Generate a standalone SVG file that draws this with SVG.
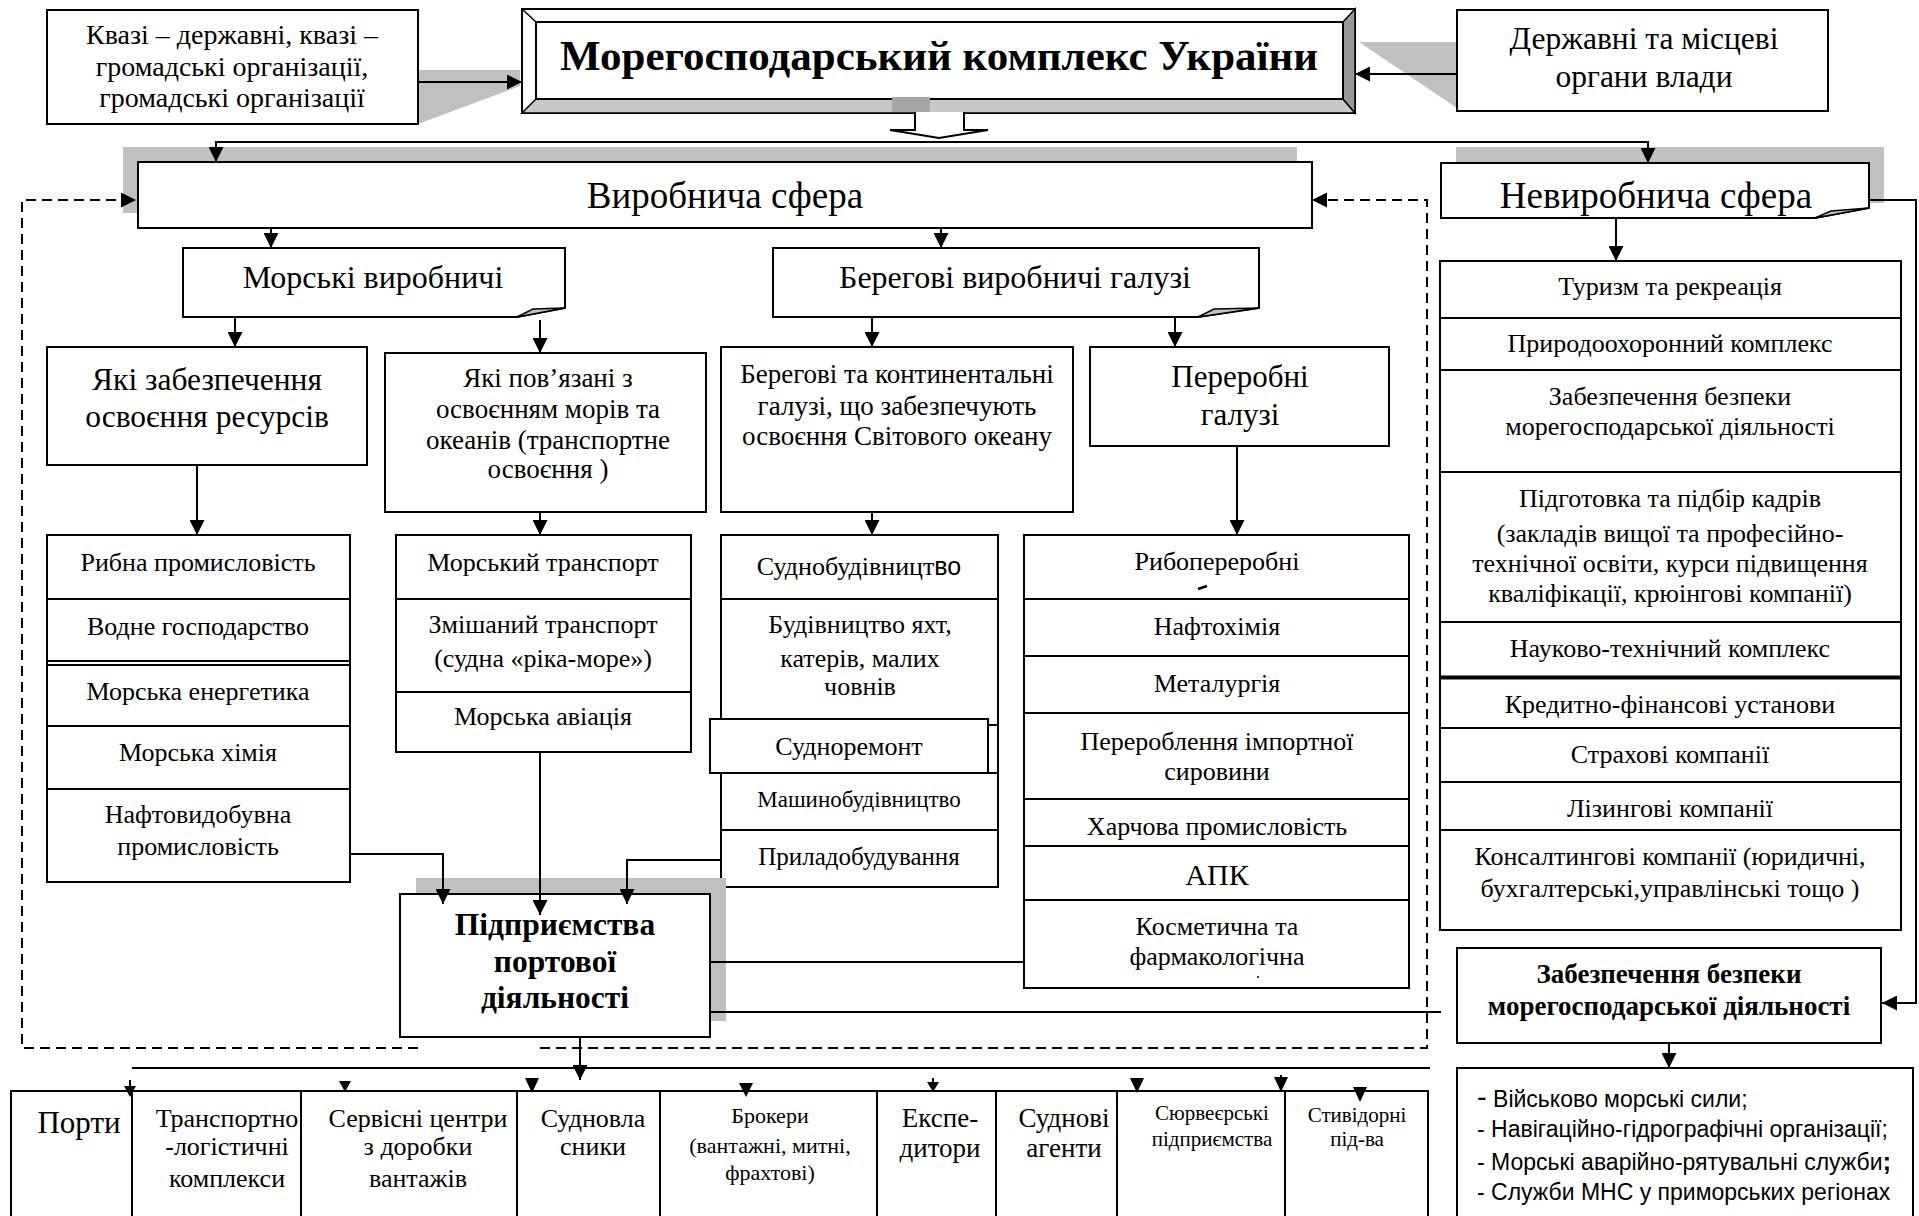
<svg xmlns="http://www.w3.org/2000/svg" width="1919" height="1216" viewBox="0 0 1919 1216">
<defs>
  <marker id="ah" viewBox="0 0 10 10" refX="10" refY="5" markerWidth="15" markerHeight="15" markerUnits="userSpaceOnUse" orient="auto">
    <path d="M0,0 L10,5 L0,10 z" fill="#000"/>
  </marker>
</defs>
<style>
  .box{fill:#fff;stroke:#000;stroke-width:2}
  .sh{fill:#c0c0c0;stroke:none}
  .ln{fill:none;stroke:#000;stroke-width:2}
  .dash{fill:none;stroke:#000;stroke-width:2;stroke-dasharray:10 6}
  .arr{marker-end:url(#ah)}
  .t{font-family:"Liberation Serif","Times New Roman",serif;fill:#000;text-anchor:middle}
  .b{font-weight:bold}
  .s{font-family:"Liberation Sans",Arial,sans-serif;fill:#000}
  .f21{font-size:21px}.f22{font-size:22px}.f23{font-size:23px}.f25{font-size:25px}
  .f26{font-size:26px}.f27{font-size:27px}.f28{font-size:28px}.f30{font-size:30px}.f31{font-size:31px}.f32{font-size:32px}.f37{font-size:37px}
</style>

<!-- shadows behind boxes -->
<g id="shadows">
  <polygon class="sh" points="418,70 520,70 520,86 418,124"/>
  <polygon class="sh" points="1359,42 1457,42 1457,108"/>
  <rect class="sh" x="123" y="147" width="1174" height="66"/>
  <rect class="sh" x="1456" y="147" width="428" height="56"/>
</g>

<!-- top: main complex with bevel frame -->
<g id="main">
  <rect x="522" y="9" width="833" height="104" fill="#fff" stroke="#000" stroke-width="2"/>
  <polygon points="522,113 536,99 1343,99 1355,113" fill="#c8c8c8" stroke="#000" stroke-width="1.5"/>
  <polygon points="1355,9 1343,22 1343,99 1355,113" fill="#999" stroke="#000" stroke-width="1.5"/>
  <line x1="522" y1="9" x2="536" y2="22" stroke="#000" stroke-width="1.5"/>
  <rect x="536" y="22" width="807" height="77" fill="#fff" stroke="#000" stroke-width="2"/>
  <rect x="892" y="97" width="38" height="15" fill="#a6a6a6"/>
  <path d="M915,112 V130 H890 L939,138 L988,130 H964 V112" fill="#fff" stroke="#000" stroke-width="2"/>
  <text class="t b" x="939" y="70" font-size="43">Морегосподарський комплекс України</text>
</g>

<g id="quasi">
  <rect class="box" x="47" y="10" width="371" height="114"/>
  <text class="t f28" x="232" y="44">Квазі – державні, квазі –</text>
  <text class="t f28" x="232" y="76">громадські організації,</text>
  <text class="t f28" x="232" y="107">громадські організації</text>
</g>

<g id="authorities">
  <rect class="box" x="1457" y="10" width="371" height="101"/>
  <text class="t" font-size="31.5" x="1644" y="49">Державні та місцеві</text>
  <text class="t" font-size="31.5" x="1644" y="87">органи влади</text>
</g>

<g id="production">
  <rect class="box" x="138" y="162" width="1174" height="66"/>
  <text class="t f37" x="725" y="208">Виробнича сфера</text>
</g>

<g id="nonproduction">
  <polygon class="box" points="1441,163 1869,163 1869,208 1815,218 1441,218"/>
  <polygon points="1815,218 1831,211 1869,208" fill="#c0c0c0" stroke="#000" stroke-width="1.5"/>
  <text class="t f37" x="1656" y="208">Невиробнича сфера</text>
</g>

<g id="marine">
  <polygon class="box" points="183,248 565,248 565,308 517,317 183,317"/>
  <polygon points="517,317 533,309 565,308" fill="#c0c0c0" stroke="#000" stroke-width="1.5"/>
  <text class="t f32" x="373" y="288">Морські виробничі</text>
</g>

<g id="coastal">
  <polygon class="box" points="773,248 1259,248 1259,308 1198,317 773,317"/>
  <polygon points="1198,317 1214,309 1259,308" fill="#c0c0c0" stroke="#000" stroke-width="1.5"/>
  <text class="t f32" x="1015" y="288">Берегові виробничі галузі</text>
</g>

<g id="resources">
  <rect class="box" x="47" y="347" width="320" height="118"/>
  <text class="t" font-size="31.5" x="207" y="390">Які забезпечення</text>
  <text class="t" font-size="31.5" x="207" y="427">освоєння ресурсів</text>
</g>

<g id="transport-dev">
  <rect class="box" x="385" y="353" width="321" height="159"/>
  <text class="t f27" x="548" y="387">Які пов’язані з</text>
  <text class="t f27" x="548" y="418">освоєнням морів та</text>
  <text class="t f27" x="548" y="449">океанів (транспортне</text>
  <text class="t f27" x="548" y="478">освоєння )</text>
</g>

<g id="continental">
  <rect class="box" x="721" y="347" width="352" height="165"/>
  <text class="t f27" x="897" y="383">Берегові та континентальні</text>
  <text class="t f27" x="897" y="415">галузі, що забезпечують</text>
  <text class="t f27" x="897" y="445">освоєння Світового океану</text>
</g>

<g id="processing">
  <rect class="box" x="1090" y="347" width="299" height="99"/>
  <text class="t f31" x="1240" y="387">Переробні</text>
  <text class="t f31" x="1240" y="425">галузі</text>
</g>

<g id="list-resources">
  <rect class="box" x="47" y="535" width="303" height="347"/>
  <path class="ln" d="M47,599 H350 M47,661 H350 M47,665 H350 M47,726 H350 M47,789 H350"/>
  <text class="t f26" x="198" y="571">Рибна промисловість</text>
  <text class="t f26" x="198" y="635">Водне господарство</text>
  <text class="t f26" x="198" y="700">Морська енергетика</text>
  <text class="t f26" x="198" y="761">Морська хімія</text>
  <text class="t f26" x="198" y="823">Нафтовидобувна</text>
  <text class="t f26" x="198" y="855">промисловість</text>
</g>

<g id="list-transport">
  <rect class="box" x="396" y="535" width="295" height="217"/>
  <path class="ln" d="M396,599 H691 M396,692 H691"/>
  <text class="t f26" x="543" y="571">Морський транспорт</text>
  <text class="t f26" x="543" y="633">Змішаний транспорт</text>
  <text class="t f26" x="543" y="667">(судна «ріка-море»)</text>
  <text class="t f26" x="543" y="725">Морська авіація</text>
</g>

<g id="list-shipbuilding">
  <rect class="box" x="721" y="535" width="277" height="352"/>
  <path class="ln" d="M721,599 H998 M721,725 H998 M721,773 H998 M721,830 H998"/>
  <text class="t f26" x="859" y="575">Суднобудівницт<tspan font-family="Liberation Sans, Arial, sans-serif" font-size="25">во</tspan></text>
  <text class="t f26" x="860" y="633">Будівництво яхт,</text>
  <text class="t f26" x="860" y="667">катерів, малих</text>
  <text class="t f26" x="860" y="695">човнів</text>
  <text class="t f23" x="859" y="807">Машинобудівництво</text>
  <text class="t f25" x="859" y="865">Приладобудування</text>
</g>

<g id="ship-repair">
  <rect class="box" x="710" y="719" width="278" height="54"/>
  <text class="t f26" x="849" y="755">Судноремонт</text>
</g>

<g id="list-processing">
  <rect class="box" x="1024" y="535" width="385" height="453"/>
  <path class="ln" d="M1024,599 H1409 M1024,656 H1409 M1024,713 H1409 M1024,799 H1409 M1024,846 H1409 M1024,900 H1409"/>
  <text class="t f26" x="1217" y="570">Рибопереробні</text>
  <path d="M1198,589 L1207,586" stroke="#000" stroke-width="2.5"/>
  <text class="t f26" x="1217" y="635">Нафтохімія</text>
  <text class="t f26" x="1217" y="692">Металургія</text>
  <text class="t f26" x="1217" y="750">Перероблення імпортної</text>
  <text class="t f26" x="1217" y="780">сировини</text>
  <text class="t f26" x="1217" y="835">Харчова промисловість</text>
  <text class="t f30" x="1217" y="885">АПК</text>
  <text class="t f26" x="1217" y="935">Косметична та</text>
  <text class="t f26" x="1217" y="965">фармакологічна</text>
  <circle cx="1258" cy="977" r="1"/>
</g>

<g id="list-nonproduction">
  <rect class="box" x="1440" y="261" width="461" height="669"/>
  <path class="ln" d="M1440,318 H1901 M1440,370 H1901 M1440,472 H1901 M1440,622 H1901 M1440,728 H1901 M1440,782 H1901 M1440,830 H1901"/>
  <path d="M1440,677.5 H1901" stroke="#000" stroke-width="4"/>
  <text class="t f26" x="1670" y="295">Туризм та рекреація</text>
  <text class="t f26" x="1670" y="352">Природоохоронний комплекс</text>
  <text class="t f26" x="1670" y="405">Забезпечення безпеки</text>
  <text class="t f26" x="1670" y="435">морегосподарської діяльності</text>
  <text class="t f26" x="1670" y="507">Підготовка та підбір кадрів</text>
  <text class="t f26" x="1670" y="542">(закладів вищої та професійно-</text>
  <text class="t f26" x="1670" y="572">технічної освіти, курси підвищення</text>
  <text class="t f26" x="1670" y="602">кваліфікації, крюінгові компанії)</text>
  <text class="t f26" x="1670" y="657">Науково-технічний комплекс</text>
  <text class="t f26" x="1670" y="713">Кредитно-фінансові установи</text>
  <text class="t f26" x="1670" y="763">Страхові компанії</text>
  <text class="t f26" x="1670" y="817">Лізингові компанії</text>
  <text class="t f26" x="1670" y="865">Консалтингові компанії (юридичні,</text>
  <text class="t f26" x="1670" y="897">бухгалтерські,управлінські тощо )</text>
</g>

<g id="port">
  <rect class="sh" x="416" y="878" width="310" height="143"/>
  <rect class="box" x="400" y="894" width="310" height="143"/>
  <text class="t b" font-size="31.5" x="555" y="935">Підприємства</text>
  <text class="t b" font-size="31.5" x="555" y="972">портової</text>
  <text class="t b" font-size="31.5" x="555" y="1008">діяльності</text>
</g>

<g id="security">
  <rect class="box" x="1457" y="948" width="424" height="95"/>
  <text class="t b" font-size="27" x="1669" y="983">Забезпечення безпеки</text>
  <text class="t b" font-size="27" x="1669" y="1015">морегосподарської діяльності</text>
</g>

<g id="security-list">
  <rect class="box" x="1457" y="1068" width="456" height="170"/>
  <text class="s" font-size="23" x="1477" y="1107"><tspan font-size="29">-</tspan> Військово морські сили;</text>
  <text class="s" font-size="23" x="1477" y="1137">- Навігаційно-гідрографічні організації;</text>
  <text class="s" font-size="23" x="1477" y="1170">- Морські аварійно-рятувальні служби<tspan font-weight="bold" font-size="26">;</tspan></text>
  <text class="s" font-size="23" x="1477" y="1200">- Служби МНС у приморських регіонах</text>
</g>

<g id="port-table">
  <rect class="box" x="11" y="1091" width="1417" height="150"/>
  <path class="ln" d="M132,1091 V1241 M301,1091 V1241 M517,1091 V1241 M660,1091 V1241 M877,1091 V1241 M996,1091 V1241 M1117,1091 V1241 M1285,1091 V1241"/>
  <text class="t f31" x="79" y="1133">Порти</text>
  <text class="t f26" x="227" y="1127">Транспортно</text>
  <text class="t f26" x="227" y="1155">-логістичні</text>
  <text class="t f26" x="227" y="1187">комплекси</text>
  <text class="t f26" x="418" y="1127">Сервісні центри</text>
  <text class="t f26" x="418" y="1155">з доробки</text>
  <text class="t f26" x="418" y="1187">вантажів</text>
  <text class="t f26" x="593" y="1127">Судновла</text>
  <text class="t f26" x="593" y="1155">сники</text>
  <text class="t f22" x="770" y="1123">Брокери</text>
  <text class="t f22" x="770" y="1153">(вантажні, митні,</text>
  <text class="t f22" x="770" y="1180">фрахтові)</text>
  <text class="t f27" x="940" y="1127">Експе-</text>
  <text class="t f27" x="940" y="1157">дитори</text>
  <text class="t f27" x="1064" y="1127">Суднові</text>
  <text class="t f27" x="1064" y="1157">агенти</text>
  <text class="t f21" x="1212" y="1120">Сюрвеєрські</text>
  <text class="t f21" x="1212" y="1146">підприємства</text>
  <text class="t f21" x="1357" y="1122">Стивідорні</text>
  <text class="t f21" x="1357" y="1146">під-ва</text>
</g>

<g id="connectors">
  <path class="ln arr" d="M418,82 H522"/>
  <path class="ln arr" d="M1457,74 H1355"/>
  <path class="ln arr" d="M939,142 H216 V162"/>
  <path class="ln arr" d="M939,142 H1648 V163"/>
  <path class="ln arr" d="M271,228 V248"/>
  <path class="ln arr" d="M941,228 V248"/>
  <path class="ln arr" d="M235,317 V347"/>
  <path class="ln arr" d="M540,320 V353"/>
  <path class="ln arr" d="M872,318 V347"/>
  <path class="ln arr" d="M1175,317 V347"/>
  <path class="ln arr" d="M197,465 V535"/>
  <path class="ln arr" d="M540,512 V535"/>
  <path class="ln arr" d="M872,512 V535"/>
  <path class="ln arr" d="M1237,446 V535"/>
  <path class="ln arr" d="M1616,218 V261"/>
  <path class="ln arr" d="M1869,200 H1916 V1003 H1882"/>
  <path class="ln arr" d="M350,854 H443 V904"/>
  <path class="ln arr" d="M540,752 V915"/>
  <path class="ln arr" d="M721,860 H627 V904"/>
  <path class="ln" d="M710,962 H1024"/>
  <path class="ln" d="M710,1012 H1441"/>
  <path class="ln arr" d="M580,1037 V1080"/>
  <path class="ln arr" d="M1669,1043 V1068"/>
  <path class="ln" d="M132,1068 H1430"/>
  <path class="dash arr" d="M418,1048 H22 V200 H136"/>
  <path class="dash arr" d="M540,1048 H1427 V200 H1312"/>
  <!-- arrowheads landing on the table top -->
  <path class="ln" d="M130,1080 V1088 M933,1078 V1084 M1281,1075 V1080"/>
  <polygon points="124,1086 136,1086 130,1097"/>
  <polygon points="339,1081 351,1081 345,1092"/>
  <polygon points="525,1078 539,1078 532,1093"/>
  <polygon points="739,1083 753,1083 746,1097"/>
  <polygon points="927,1082 939,1082 933,1092"/>
  <polygon points="1130,1078 1144,1078 1137,1093"/>
  <polygon points="1274,1077 1288,1077 1281,1092"/>
  <polygon points="1353,1087 1367,1087 1360,1102"/>
</g>
</svg>
